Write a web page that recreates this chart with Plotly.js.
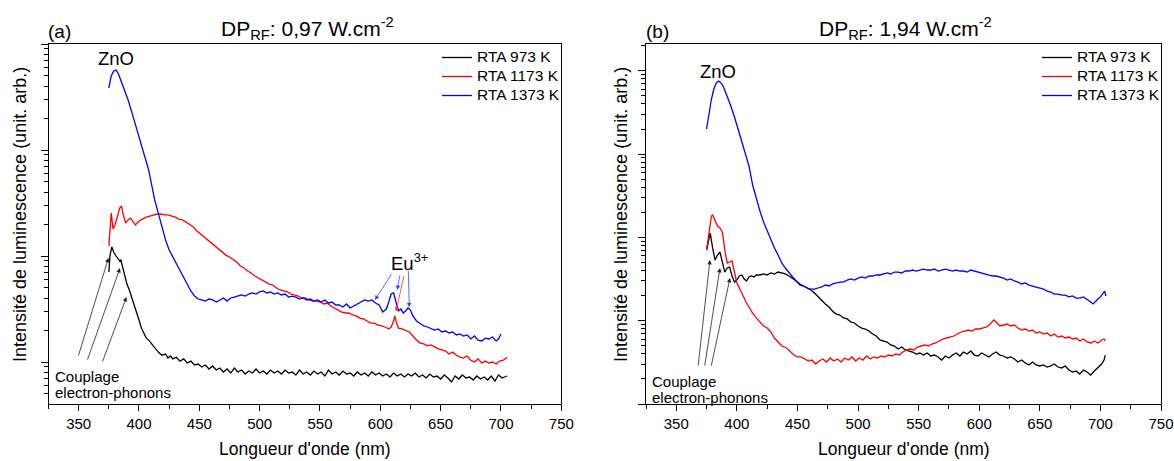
<!DOCTYPE html>
<html>
<head>
<meta charset="utf-8">
<script src="https://cdn.plot.ly/plotly-3.0.1.min.js"></script>
<style>html,body{margin:0;padding:0;background:#fff;}#chart{width:1174px;height:461px;}</style>
</head>
<body>
<div id="chart"></div>
<script>
// ---------- DATA (wavelength nm, intensity arb. units) ----------
// Panel (a) DP_RF 0.97 W.cm-2
const black973A = [[375,7.06],[376,10.2],[377.5,12.2],[379,10.9],[381,10.0],[382,9.57],[384,8.97],[385,9.17],[386,8.23],[388,6.48],[390,5.44],[392,4.78],[394,4.10],[396,3.45],[398,2.90],[400,2.49],[402,2.09],[404,1.84],[406,1.68],[408,1.61],[410,1.51],[413,1.36],[416,1.24],[419,1.16],[422,1.19],[424,1.09],[426,1.14],[428,1.07],[431,1.11],[434,1.02],[437,1.07],[440,0.978],[443,1.02],[446,0.937],[449,0.957],[452,0.897],[455,0.937],[458,0.859],[461,0.917],[464,0.840],[467,0.878],[470,0.805],[473,0.859],[476,0.787],[479,0.878],[482,0.805],[485,0.840],[488,0.770],[491,0.822],[494,0.787],[497,0.859],[500,0.787],[503,0.822],[506,0.770],[509,0.840],[512,0.787],[515,0.822],[518,0.770],[521,0.840],[524,0.787],[527,0.805],[530,0.754],[533,0.840],[536,0.770],[539,0.805],[542,0.754],[545,0.822],[548,0.770],[551,0.805],[554,0.738],[557,0.840],[560,0.770],[563,0.805],[566,0.754],[569,0.822],[572,0.770],[575,0.787],[578,0.738],[581,0.805],[584,0.754],[587,0.787],[590,0.738],[593,0.805],[596,0.754],[599,0.787],[602,0.738],[605,0.770],[608,0.722],[611,0.787],[614,0.738],[617,0.770],[620,0.722],[623,0.770],[626,0.738],[629,0.787],[632,0.722],[635,0.754],[638,0.707],[641,0.770],[644,0.722],[647,0.738],[650,0.691],[653,0.754],[656,0.707],[659,0.648],[662,0.738],[665,0.691],[668,0.754],[671,0.707],[674,0.722],[677,0.676],[680,0.738],[683,0.691],[686,0.722],[689,0.676],[692,0.738],[695,0.662],[698,0.754],[701,0.707],[703,0.722],[705,0.738]];
const red1173A = [[375,12.4],[376,20.9],[377,25.4],[378.5,18.0],[380,19.6],[382,23.3],[384,28.4],[385.5,29.6],[387,24.4],[389,20.5],[391,21.9],[393,22.8],[395,20.9],[397,19.6],[400,21.4],[403,22.3],[406,23.3],[409,23.8],[412,24.4],[415,24.9],[418,24.9],[421,24.4],[424,24.4],[427,23.8],[430,23.3],[433,22.3],[436,21.9],[439,20.9],[442,20.0],[445,18.8],[448,17.2],[451,16.1],[454,15.1],[457,14.2],[460,13.3],[463,12.4],[466,11.6],[469,10.9],[472,10.2],[475,9.78],[478,9.17],[481,8.78],[484,8.05],[487,7.70],[490,7.22],[493,6.91],[496,6.48],[499,6.20],[502,5.94],[505,5.68],[508,5.44],[511,5.33],[514,4.99],[517,4.78],[520,4.68],[523,4.58],[526,4.38],[529,4.29],[532,4.19],[535,4.02],[538,4.02],[541,3.85],[544,3.76],[547,3.76],[550,3.68],[553,3.53],[556,3.60],[559,3.38],[562,3.23],[565,3.09],[568,2.96],[571,2.90],[574,2.90],[577,2.78],[580,2.72],[583,2.60],[586,2.55],[589,2.44],[592,2.33],[595,2.33],[598,2.23],[601,2.19],[604,2.14],[607,2.05],[609,2.14],[611,2.44],[612,2.72],[613,2.44],[615,2.09],[618,2.05],[621,2.00],[624,1.92],[627,1.76],[630,1.61],[633,1.51],[636,1.48],[639,1.42],[642,1.45],[645,1.39],[648,1.33],[651,1.30],[654,1.27],[657,1.19],[660,1.24],[663,1.16],[666,1.11],[669,1.09],[672,1.14],[675,1.04],[678,1.00],[681,1.07],[684,0.978],[687,1.02],[690,0.978],[693,1.00],[696,0.957],[699,1.02],[702,1.04],[705,1.11]];
const blue1373A = [[375,384.5],[377,499],[379,556],[381,568],[383,521],[385,457],[388,368],[391,296],[395,209],[400,135.6],[404,95.7],[408,64.8],[413,33.8],[416,25.4],[419,18.4],[422,14.2],[425,11.4],[428,9.78],[431,8.59],[434,7.38],[437,6.34],[440,5.44],[443,4.68],[446,4.19],[449,3.93],[452,3.85],[455,3.76],[458,3.93],[461,3.85],[464,3.68],[467,3.85],[470,4.02],[473,3.76],[476,4.02],[479,4.10],[482,4.19],[485,4.29],[488,4.19],[491,4.38],[494,4.48],[497,4.38],[500,4.58],[503,4.68],[506,4.48],[509,4.58],[512,4.38],[515,4.48],[518,4.29],[521,4.38],[524,4.10],[527,4.19],[530,4.10],[533,3.93],[536,4.02],[539,3.85],[542,3.93],[545,3.76],[548,3.85],[551,3.68],[554,3.85],[557,3.60],[560,3.68],[563,3.45],[566,3.45],[569,3.30],[572,3.53],[575,3.23],[578,3.38],[581,3.53],[584,3.68],[587,3.85],[590,3.76],[593,3.85],[596,3.60],[599,3.45],[602,2.96],[605,3.16],[607,3.68],[609,4.38],[611,4.48],[613,3.60],[615,3.03],[617,3.16],[619,2.90],[621,3.03],[623,3.23],[625,3.09],[627,2.72],[630,2.44],[633,2.33],[636,2.19],[639,2.14],[642,2.05],[645,2.00],[648,2.05],[651,1.92],[654,1.96],[657,1.88],[660,1.92],[663,1.80],[666,1.84],[669,1.76],[672,1.80],[675,1.65],[678,1.76],[681,1.61],[684,1.58],[687,1.68],[690,1.65],[693,1.72],[696,1.58],[698,1.65],[700,1.84]];

// Panel (b) DP_RF 1.94 W.cm-2
const black973B = [[375,70.6],[377,93.1],[378,112.9],[380,74.6],[382,53.5],[384,61.5],[386,66.8],[388,50.7],[390,38.4],[392,42.9],[394,44.1],[396,34.4],[398,29.1],[400,30.8],[402,34.4],[404,35.4],[406,31.7],[408,30.0],[410,33.5],[412,34.4],[414,33.5],[416,35.4],[419,35.4],[422,36.4],[425,35.4],[428,37.4],[431,36.4],[434,38.4],[437,37.4],[440,36.4],[443,34.4],[446,32.5],[449,30.0],[452,26.8],[455,26.1],[458,24.7],[461,23.4],[464,21.5],[467,19.3],[470,17.2],[473,15.9],[476,14.6],[479,13.0],[482,12.0],[485,11.7],[488,10.8],[491,10.5],[494,9.65],[497,9.39],[500,8.64],[503,8.17],[506,7.95],[509,7.52],[512,6.92],[515,6.55],[518,5.87],[521,5.71],[524,5.55],[527,5.11],[530,4.97],[533,4.57],[536,4.83],[539,4.45],[542,4.33],[545,4.21],[548,3.98],[551,4.09],[554,3.87],[557,4.09],[560,3.77],[563,3.87],[566,3.67],[569,3.37],[572,3.77],[575,3.57],[578,3.87],[581,4.09],[584,3.77],[587,4.21],[590,3.98],[593,4.33],[596,3.87],[599,3.77],[602,4.09],[605,3.87],[608,3.67],[611,3.98],[614,4.21],[617,3.87],[620,3.77],[623,3.57],[626,3.67],[629,3.47],[632,3.19],[635,3.37],[638,3.10],[641,2.94],[644,3.19],[647,2.94],[650,2.86],[653,2.94],[656,2.78],[659,2.86],[662,3.02],[665,2.78],[668,2.71],[671,2.86],[674,2.56],[677,2.42],[680,2.49],[683,2.29],[686,2.56],[689,2.42],[692,2.23],[695,2.49],[698,2.71],[701,3.02],[703,3.37],[704,3.87]];
const red1173B = [[375,70.6],[377,122.7],[379,180.7],[380,185.8],[382,161.8],[384,137.1],[386,129.7],[388,116.1],[390,70.6],[392,49.3],[394,50.7],[396,52.1],[398,38.4],[400,28.4],[402,24.7],[405,19.8],[408,16.3],[410,14.6],[413,12.3],[416,10.8],[419,9.65],[422,8.64],[425,8.17],[428,7.32],[431,6.20],[434,5.55],[437,4.97],[441,4.70],[444,4.21],[447,3.87],[450,3.67],[453,3.67],[456,3.47],[459,3.28],[462,3.37],[465,3.02],[468,3.28],[471,3.47],[474,3.19],[477,3.57],[480,3.28],[483,3.47],[486,3.19],[489,3.57],[492,3.37],[495,3.67],[498,3.28],[501,3.57],[504,3.37],[507,3.77],[510,3.47],[513,3.67],[516,3.57],[519,3.77],[522,3.67],[525,3.87],[528,3.77],[531,3.98],[534,3.87],[537,4.21],[540,4.45],[543,4.57],[546,4.45],[549,4.83],[552,4.97],[555,5.11],[558,4.97],[561,5.25],[564,5.40],[567,5.71],[570,6.03],[573,6.20],[576,6.37],[579,6.55],[582,6.92],[585,7.32],[588,7.52],[591,7.73],[594,7.52],[597,7.95],[600,7.95],[603,8.17],[606,8.40],[609,9.13],[612,10.2],[614,9.65],[617,8.64],[620,8.88],[623,9.13],[626,8.64],[629,8.88],[632,8.17],[635,7.73],[638,7.95],[641,7.52],[644,7.73],[647,7.12],[650,7.32],[653,6.92],[656,7.12],[659,6.55],[662,6.92],[665,6.37],[668,6.55],[671,6.20],[674,6.37],[677,6.03],[680,6.20],[683,5.71],[686,6.03],[689,5.55],[692,5.40],[695,5.71],[698,5.40],[701,5.87],[703,6.03],[704,5.71]];
const blue1373B = [[375,2001],[377,3114],[379,4586],[381,6046],[383,7137],[385,7543],[387,7137],[389,6390],[391,5413],[393,4586],[395,3779],[398,2788],[401,2001],[404,1436],[407,1031],[410,720],[413,425.8],[416,289],[419,207.5],[422,153.0],[425,119.4],[428,93.1],[431,74.6],[434,61.5],[437,49.3],[440,42.9],[443,37.4],[446,33.5],[449,30.0],[452,27.6],[455,26.1],[458,24.7],[461,24.0],[464,24.0],[467,24.7],[470,25.4],[473,26.8],[476,26.1],[479,27.6],[482,28.4],[485,29.1],[488,29.1],[491,30.8],[494,31.7],[497,30.8],[500,32.5],[503,33.5],[506,32.5],[509,34.4],[512,34.4],[515,35.4],[518,35.4],[521,36.4],[524,37.4],[527,36.4],[530,38.4],[533,38.4],[536,37.4],[539,39.5],[542,39.5],[545,40.6],[548,39.5],[551,40.6],[554,41.7],[557,40.6],[560,40.6],[563,41.7],[566,39.5],[569,40.6],[572,41.7],[575,40.6],[578,39.5],[581,40.6],[584,39.5],[587,39.5],[590,38.4],[593,40.6],[596,39.5],[599,38.4],[602,37.4],[605,36.4],[608,35.4],[611,34.4],[614,34.4],[617,33.5],[620,32.5],[623,30.8],[626,31.7],[629,30.0],[632,29.1],[635,27.6],[638,28.4],[641,26.8],[644,26.1],[647,25.4],[650,24.7],[653,24.0],[656,22.7],[659,22.1],[662,20.9],[665,20.9],[668,20.3],[671,20.3],[674,19.3],[677,19.8],[680,18.7],[683,18.7],[686,19.3],[689,18.2],[692,16.8],[694,15.9],[696,17.2],[698,18.2],[700,19.3],[702,21.5],[703.5,22.7],[704.5,19.8]];

const seriesNames = ['RTA 973 K','RTA 1173 K','RTA 1373 K'];
const seriesColors = ['#000000','#ff0000','#0000ff'];
const xTickVals = [350,400,450,500,550,600,650,700,750];
const panelTitles = ['DP<sub>RF</sub>: 0,97 W.cm<sup>-2</sup>','DP<sub>RF</sub>: 1,94 W.cm<sup>-2</sup>'];
const panelLetters = ['(a)','(b)'];
const yTitle = 'Intensité de luminescence (unit. arb.)';
const xTitle = "Longueur d'onde (nm)";

// ---------- LAYOUT HELPERS ----------
const W = 1174, H = 461;
const px = x => x / W;
const py = y => 1 - y / H;
const FONT = 'Arial, "Liberation Sans", sans-serif';

function decadeTicks(lo, hi, minor) {
  const out = [];
  for (let e = lo; e <= hi; e++) {
    if (!minor) out.push(Math.pow(10, e));
    else for (let m = 2; m <= 9; m++) out.push(m * Math.pow(10, e));
  }
  return out;
}

function mk(pairs, i, xa, ya, leg) {
  return {
    x: pairs.map(p => p[0]), y: pairs.map(p => p[1]),
    type: 'scatter', mode: 'lines',
    name: '<span style="font-size:15.5px">' + seriesNames[i] + '</span>',
    line: {color: seriesColors[i], width: 1.3},
    xaxis: xa, yaxis: ya, legend: leg
  };
}

const traces = [
  mk(black973A, 0, 'x', 'y', 'legend'),
  mk(red1173A, 1, 'x', 'y', 'legend'),
  mk(blue1373A, 2, 'x', 'y', 'legend'),
  mk(black973B, 0, 'x2', 'y2', 'legend2'),
  mk(red1173B, 1, 'x2', 'y2', 'legend2'),
  mk(blue1373B, 2, 'x2', 'y2', 'legend2')
];

function xAxis(domain, anchor) {
  return {
    domain: domain, anchor: anchor, range: [325, 750],
    tickmode: 'array', tickvals: xTickVals,
    ticks: 'outside', ticklen: 6, tickwidth: 1, tickcolor: '#000',
    showline: true, linecolor: '#000', linewidth: 1, mirror: true,
    showgrid: false, zeroline: false,
    tickfont: {family: FONT, size: 15, color: '#000'},
    minor: {tickmode: 'linear', tick0: 325, dtick: 25, ticks: 'outside', ticklen: 3.5, tickcolor: '#000', showgrid: false}
  };
}
function yAxis(range, anchor, lo, hi) {
  return {
    domain: [py(404), py(44)], anchor: anchor, type: 'log', range: range,
    tickmode: 'array', tickvals: decadeTicks(lo, hi, false), showticklabels: false,
    ticks: 'outside', ticklen: 7, tickwidth: 1, tickcolor: '#000',
    showline: true, linecolor: '#000', linewidth: 1, mirror: true,
    showgrid: false, zeroline: false,
    minor: {tickmode: 'array', tickvals: decadeTicks(lo - 1, hi, true), ticks: 'outside', ticklen: 4, tickcolor: '#000', showgrid: false}
  };
}

const ann = [];
function txt(t, x, y, size, xanchor, extra) {
  ann.push(Object.assign({text: t, xref: 'paper', yref: 'paper', x: px(x), y: py(y),
    xanchor: xanchor || 'center', yanchor: 'middle', showarrow: false,
    font: {family: FONT, size: size, color: '#000'}}, extra || {}));
}
function arrow(hx, hy, tx, ty, color) {
  ann.push({text: '', xref: 'paper', yref: 'paper', x: px(hx), y: py(hy),
    ax: tx - hx, ay: ty - hy, axref: 'pixel', ayref: 'pixel',
    showarrow: true, arrowhead: 2, arrowsize: 1.1, arrowwidth: 0.8, arrowcolor: color, standoff: 0, startstandoff: 0});
}

// titles and letters
txt(panelTitles[0], 307, 29, 21);
txt(panelTitles[1], 905, 29, 21);
txt(panelLetters[0], 46, 31, 19, 'left');
txt(panelLetters[1], 644, 31, 19, 'left');
// axis titles
txt(xTitle, 305, 449, 17.5);
txt(xTitle, 903.5, 449, 17.5);
txt(yTitle, 20, 215, 18, 'center', {textangle: -90});
txt(yTitle, 621, 215, 18, 'center', {textangle: -90});
// labels
txt('ZnO', 116, 59, 18.5);
txt('ZnO', 718, 71, 18.5);
txt('Eu<sup>3+</sup>', 389, 262, 18.5, 'left');
txt('Couplage', 53, 376, 15, 'left');
txt('electron-phonons', 53, 392, 15, 'left');
txt('Couplage', 650, 381, 15, 'left');
txt('electron-phonons', 650, 397, 15, 'left');
// arrows: electron-phonon coupling (a)
arrow(108.5, 258, 78, 357, '#222');
arrow(120, 268, 87, 361, '#222');
arrow(126.5, 297, 102, 363, '#222');
// arrows (b)
arrow(710, 260, 698, 367, '#222');
arrow(720, 268, 704.5, 367, '#222');
arrow(730, 278, 711, 367, '#222');
// Eu3+ arrows
arrow(375, 300, 392.3, 272.7, '#2a4bff');
arrow(397.3, 290, 400, 274, '#2a4bff');
arrow(396, 311.7, 404.3, 274, '#ff3030');
arrow(409.3, 307.3, 408.3, 269.3, '#2a4bff');

const legendBase = {
  yanchor: 'top', xanchor: 'right', y: py(43),
  font: {family: FONT, size: 12, color: '#000'},
  bgcolor: 'rgba(0,0,0,0)', borderwidth: 0, tracegroupgap: 0, itemwidth: 30
};

const layout = {
  width: W, height: H,
  margin: {l: 0, r: 0, t: 0, b: 0, pad: 0},
  paper_bgcolor: '#fff', plot_bgcolor: '#fff',
  font: {family: FONT, color: '#000'},
  xaxis: xAxis([px(48.5), px(561.3)], 'y'),
  yaxis: yAxis([-0.396, 3], 'x', 0, 3),
  xaxis2: xAxis([px(646), px(1161)], 'y2'),
  yaxis2: yAxis([0, 4.322], 'x2', 0, 4),
  legend: Object.assign({}, legendBase, {x: px(565)}),
  legend2: Object.assign({}, legendBase, {x: px(1165)}),
  showlegend: true,
  annotations: ann
};

Plotly.newPlot('chart', traces, layout, {displayModeBar: false, staticPlot: true});
</script>
</body>
</html>
